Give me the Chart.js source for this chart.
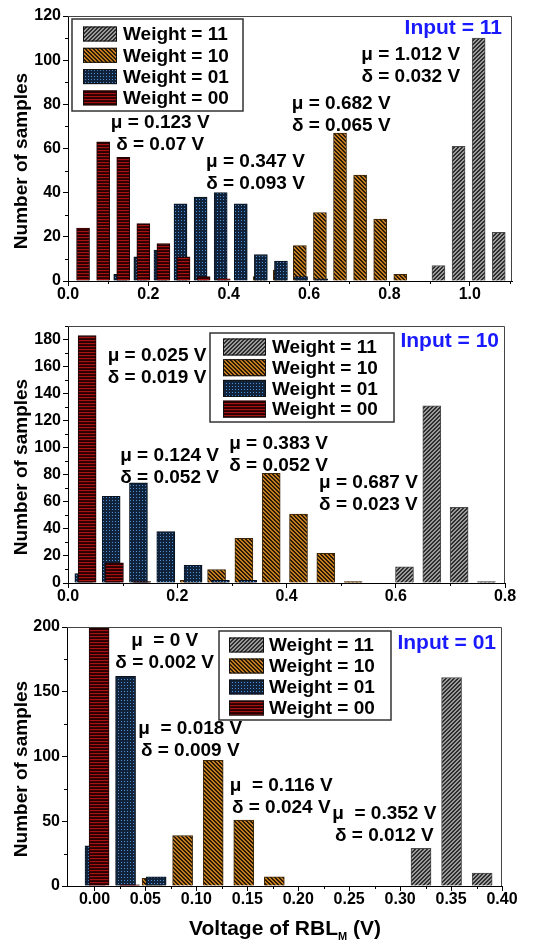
<!DOCTYPE html>
<html>
<head>
<meta charset="utf-8">
<title>RBL voltage histograms</title>
<script src="https://cdn.jsdelivr.net/npm/chart.js@4.4.1/dist/chart.umd.min.js"></script>
<style>
  body { margin: 0; background: #fff; }
  .panel { position: absolute; left: 0; }
</style>
</head>
<body>
<canvas id="chart11" class="panel" width="534" height="310" style="top:0px"></canvas>
<canvas id="chart10" class="panel" width="534" height="305" style="top:310px"></canvas>
<canvas id="chart01" class="panel" width="534" height="326" style="top:615px"></canvas>
<script>
const FONT = '"Liberation Sans", Arial, sans-serif';
const LABELS = ['Weight = 11', 'Weight = 10', 'Weight = 01', 'Weight = 00'];

// ---- Input = 11 ----
const in11XTicks = [0.0, 0.2, 0.4, 0.6, 0.8, 1.0];
const in11YTicks = [0, 20, 40, 60, 80, 100, 120];
const in11W11X = [0.922, 0.972, 1.022, 1.072];
const in11W11Y = [7, 61, 110, 22];
const in11W10X = [0.477, 0.527, 0.577, 0.627, 0.677, 0.727, 0.777, 0.827];
const in11W10Y = [2, 5, 16, 31, 67, 48, 28, 3];
const in11W01X = [0.13, 0.18, 0.23, 0.28, 0.33, 0.38, 0.43, 0.48, 0.53, 0.58, 0.63];
const in11W01Y = [3, 11, 14, 35, 38, 40, 35, 12, 9, 2, 1];
const in11W00X = [0.0375, 0.0875, 0.1375, 0.1875, 0.2375, 0.2875, 0.3375, 0.3875];
const in11W00Y = [24, 63, 56, 26, 17, 11, 2, 1];
const in11Notes = [
  ['μ = 0.123 V', 'δ = 0.07 V'],
  ['μ = 0.347 V', 'δ = 0.093 V'],
  ['μ = 0.682 V', 'δ = 0.065 V'],
  ['μ = 1.012 V', 'δ = 0.032 V']
];

// ---- Input = 10 ----
const in10XTicks = [0.0, 0.2, 0.4, 0.6, 0.8];
const in10YTicks = [0, 20, 40, 60, 80, 100, 120, 140, 160, 180];
const in10W11X = [0.616, 0.666, 0.716, 0.766];
const in10W11Y = [12, 131, 56, 1];
const in10W10X = [0.222, 0.272, 0.322, 0.372, 0.422, 0.472, 0.522];
const in10W10Y = [2, 10, 33, 81, 51, 22, 1];
const in10W01X = [0.029, 0.079, 0.129, 0.179, 0.229, 0.279, 0.329];
const in10W01Y = [7, 64, 74, 38, 13, 2, 2];
const in10W00X = [0.035, 0.085, 0.135];
const in10W00Y = [183, 15, 1];
const in10Notes = [
  ['μ = 0.025 V', 'δ = 0.019 V'],
  ['μ = 0.124 V', 'δ = 0.052 V'],
  ['μ = 0.383 V', 'δ = 0.052 V'],
  ['μ = 0.687 V', 'δ = 0.023 V']
];

// ---- Input = 01 ----
const in01XTicks = [0.00, 0.05, 0.10, 0.15, 0.20, 0.25, 0.30, 0.35, 0.40];
const in01YTicks = [0, 50, 100, 150, 200];
const in01W11X = [0.3205, 0.3505, 0.3805];
const in01W11Y = [29, 161, 10];
const in01W10X = [0.0565, 0.0865, 0.1165, 0.1465, 0.1765];
const in01W10Y = [6, 39, 97, 51, 7];
const in01W01X = [0.0005, 0.0305, 0.0605];
const in01W01Y = [31, 162, 7];
const in01W00X = [0.0045, 0.0345];
const in01W00Y = [199, 1];
const in01Notes = [
  ['μ  = 0 V', 'δ = 0.002 V'],
  ['μ  = 0.018 V', 'δ = 0.009 V'],
  ['μ  = 0.116 V', 'δ = 0.024 V'],
  ['μ  = 0.352 V', 'δ = 0.012 V']
];

/**
 * Small pixel tile turned into a repeating fill
 */
function makePattern(size, paint) {
  const c = document.createElement('canvas');
  c.width = c.height = size;
  const g = c.getContext('2d');
  for (let y = 0; y < size; y++) {
    for (let x = 0; x < size; x++) {
      g.fillStyle = paint(x, y);
      g.fillRect(x, y, 1, 1);
    }
  }
  return g.createPattern(c, 'repeat');
}

const fills = [
  makePattern(4, (x, y) => (x + y) % 4 < 2 ? '#2e2e2e' : '#9a9a9a'),
  makePattern(4, (x, y) => (x - y + 4) % 4 < 2 ? '#2c1a04' : '#c07c1e'),
  makePattern(3, (x, y) => (x === 1 && y === 1) ? '#4c8fd6' : '#10233b'),
  makePattern(3, (x, y) => ['#a81212', '#3a0000', '#260000'][y])
];
const edges = ['#4a4a4a', '#3c260a', '#08121e', '#200000'];

function series(xs, ys) {
  return xs.map((x, i) => ({ x, y: ys[i] }));
}

function makeDatasets(groups, thickness) {
  return groups.map(([xs, ys], i) => ({
    label: LABELS[i],
    data: series(xs, ys),
    backgroundColor: fills[i],
    borderColor: edges[i],
    borderWidth: 1,
    barThickness: thickness,
    grouped: false,
    order: 3 - i          // Weight = 00 ends up drawn on top
  }));
}

/**
 * Frame, minor ticks, legend box, labels and the mu / delta notes
 */
const panelDecor = {
  id: 'panelDecor',
  afterDraw(chart, args, o) {
    const { ctx, chartArea: a, scales: { x, y } } = chart;
    ctx.save();

    // top and right frame
    ctx.strokeStyle = '#444';
    ctx.lineWidth = 1;
    ctx.beginPath();
    ctx.moveTo(a.left, a.top + 0.5);
    ctx.lineTo(a.right - 0.5, a.top + 0.5);
    ctx.lineTo(a.right - 0.5, a.bottom);
    ctx.stroke();

    // minor ticks
    ctx.strokeStyle = '#000';
    ctx.beginPath();
    for (let v = o.xMinor[0]; v <= x.max + 1e-9; v += o.xMinor[1]) {
      const px = Math.round(x.getPixelForValue(v)) + 0.5;
      ctx.moveTo(px, a.bottom);
      ctx.lineTo(px, a.bottom + 3);
    }
    for (let v = o.yMinor[0]; v <= y.max; v += o.yMinor[1]) {
      const py = Math.round(y.getPixelForValue(v)) + 0.5;
      ctx.moveTo(a.left, py);
      ctx.lineTo(a.left - 3, py);
    }
    ctx.stroke();

    // legend
    const L = o.legend;
    ctx.fillStyle = '#fff';
    ctx.fillRect(L.x, L.y, L.w, L.h);
    ctx.strokeStyle = '#333';
    ctx.lineWidth = 1.5;
    ctx.strokeRect(L.x, L.y, L.w, L.h);
    ctx.font = `bold 19px ${FONT}`;
    ctx.textAlign = 'left';
    ctx.textBaseline = 'middle';
    chart.data.datasets.forEach((ds, i) => {
      const cy = L.y + L.row0 + i * L.gap;
      ctx.fillStyle = ds.backgroundColor;
      ctx.fillRect(L.x + L.sx, cy - L.sh / 2, L.sw, L.sh);
      ctx.strokeStyle = '#111';
      ctx.lineWidth = 1;
      ctx.strokeRect(L.x + L.sx + 0.5, cy - L.sh / 2 + 0.5, L.sw - 1, L.sh - 1);
      ctx.fillStyle = '#000';
      ctx.fillText(ds.label, L.x + L.tx, cy + 1);
    });

    // input label
    ctx.font = `bold 21px ${FONT}`;
    ctx.textAlign = 'right';
    ctx.fillStyle = '#1a1aff';
    ctx.fillText(o.input.text, o.input.x, o.input.y);

    // mu / delta notes, anchored in data units
    ctx.font = `bold 19px ${FONT}`;
    ctx.textAlign = 'center';
    ctx.fillStyle = '#000';
    o.notes.forEach((lines, i) => {
      const [vx, vy] = o.noteAt[i];
      const px = x.getPixelForValue(vx);
      const py = y.getPixelForValue(vy);
      lines.forEach((t, k) => ctx.fillText(t, px, py + k * 22));
    });

    // y title
    ctx.save();
    ctx.translate(22, o.yTitleY);
    ctx.rotate(-Math.PI / 2);
    ctx.font = `bold 19px ${FONT}`;
    ctx.fillText('Number of samples', 0, 0);
    ctx.restore();

    // x title with subscript
    if (o.xTitle) {
      const main = 'Voltage of RBL', sub = 'M', tail = ' (V)';
      ctx.font = `bold 21px ${FONT}`;
      const w1 = ctx.measureText(main).width;
      const w3 = ctx.measureText(tail).width;
      ctx.font = `bold 11px ${FONT}`;
      const w2 = ctx.measureText(sub).width;
      let sx = o.xTitle.x - (w1 + w2 + w3) / 2;
      const base = o.xTitle.y;
      ctx.textAlign = 'left';
      ctx.textBaseline = 'alphabetic';
      ctx.font = `bold 21px ${FONT}`;
      ctx.fillText(main, sx, base);
      ctx.font = `bold 11px ${FONT}`;
      ctx.fillText(sub, sx + w1, base + 5);
      ctx.font = `bold 21px ${FONT}`;
      ctx.fillText(tail, sx + w1 + w2, base);
    }
    ctx.restore();
  }
};

function buildPanel(id, p) {
  const tickFont = { family: FONT, size: 16, weight: 'bold', lineHeight: 1 };
  return new Chart(document.getElementById(id), {
    type: 'bar',
    data: { datasets: makeDatasets(p.series, p.barPx) },
    options: {
      responsive: false,
      animation: false,
      layout: { padding: p.padding },
      plugins: {
        legend: { display: false },
        tooltip: { enabled: false },
        panelDecor: p.decor
      },
      scales: {
        x: {
          type: 'linear',
          min: p.xMin,
          max: p.xMax,
          offset: false,
          afterBuildTicks: ax => { ax.ticks = p.xTicks.map(value => ({ value })); },
          afterFit: ax => { ax.height = p.xAxisH; },
          grid: { drawOnChartArea: false, offset: false, tickLength: 5, color: '#000' },
          border: { color: '#000', width: 1 },
          ticks: {
            font: tickFont, color: '#000', padding: 1,
            maxRotation: 0, autoSkip: false,
            callback: v => v.toFixed(p.xDigits)
          }
        },
        y: {
          min: 0,
          max: p.yMax,
          afterBuildTicks: ax => { ax.ticks = p.yTicks.map(value => ({ value })); },
          afterFit: ax => { ax.width = p.yAxisW; },
          grid: { drawOnChartArea: false, tickLength: 5, color: '#000' },
          border: { color: '#000', width: 1 },
          ticks: { font: tickFont, color: '#000', padding: 2, callback: v => String(v) }
        }
      }
    },
    plugins: [panelDecor]
  });
}

buildPanel('chart11', {
  series: [[in11W11X, in11W11Y], [in11W10X, in11W10Y], [in11W01X, in11W01Y], [in11W00X, in11W00Y]],
  barPx: 13,
  xMin: 0, xMax: 1.105, xTicks: in11XTicks, xDigits: 1,
  yMax: 120, yTicks: in11YTicks,
  padding: { top: 16, right: 22, left: 0, bottom: 0 },
  xAxisH: 29, yAxisW: 68,
  decor: {
    xMinor: [0.1, 0.2], yMinor: [10, 20],
    legend: { x: 72, y: 19, w: 171, h: 92, sx: 11, sw: 34, sh: 15, tx: 51, row0: 15, gap: 21.3 },
    input: { text: 'Input = 11', x: 502, y: 28 },
    notes: in11Notes,
    noteAt: [[0.2295, 71.5], [0.4666, 53.9], [0.680, 80.2], [0.853, 102.3]],
    yTitleY: 161
  }
});

buildPanel('chart10', {
  series: [[in10W11X, in10W11Y], [in10W10X, in10W10Y], [in10W01X, in10W01Y], [in10W00X, in10W00Y]],
  barPx: 18,
  xMin: 0, xMax: 0.8, xTicks: in10XTicks, xDigits: 1,
  yMax: 190, yTicks: in10YTicks,
  padding: { top: 16, right: 29, left: 0, bottom: 0 },
  xAxisH: 32, yAxisW: 68,
  decor: {
    xMinor: [0.1, 0.2], yMinor: [10, 20],
    legend: { x: 210, y: 23, w: 184, h: 89, sx: 13, sw: 43, sh: 17, tx: 62, row0: 14, gap: 20.7 },
    input: { text: 'Input = 10', x: 499, y: 31 },
    notes: in10Notes,
    noteAt: [[0.163, 168.2], [0.186, 94.4], [0.3855, 103.3], [0.550, 73.8]],
    yTitleY: 157
  }
});

buildPanel('chart01', {
  series: [[in01W11X, in01W11Y], [in01W10X, in01W10Y], [in01W01X, in01W01Y], [in01W00X, in01W00Y]],
  barPx: 20,
  xMin: -0.027, xMax: 0.4, xTicks: in01XTicks, xDigits: 2,
  yMax: 200, yTicks: in01YTicks,
  padding: { top: 12, right: 32, left: 0, bottom: 0 },
  xAxisH: 55, yAxisW: 67,
  decor: {
    xMinor: [0.025, 0.05], yMinor: [25, 50],
    legend: { x: 219, y: 16, w: 172, h: 89, sx: 10, sw: 35, sh: 15, tx: 50, row0: 14, gap: 21 },
    input: { text: 'Input = 01', x: 496, y: 28 },
    notes: in01Notes,
    noteAt: [[0.0689, 189.2], [0.094, 121.2], [0.1833, 77.2], [0.2845, 55.6]],
    yTitleY: 154,
    xTitle: { x: 285, y: 320 }
  }
});
</script>
</body>
</html>
